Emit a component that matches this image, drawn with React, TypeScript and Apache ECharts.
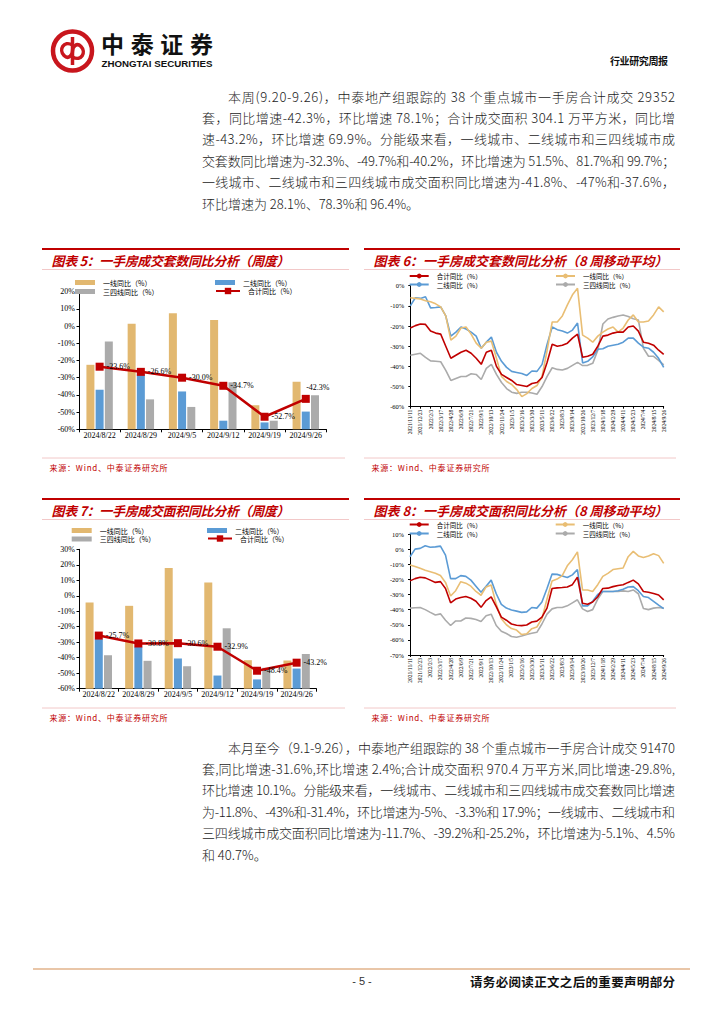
import React, { useEffect, useRef } from "react";
import * as echarts from "echarts";

// ---------- DATA ----------
const weekCats = ["2024/8/22", "2024/8/29", "2024/9/5", "2024/9/12", "2024/9/19", "2024/9/26"];

const unitsTier1 = [-22.5, 1.3, 7.5, 3.5, -46.0, -32.3];
const unitsTier2 = [-37.0, -28.0, -38.0, -55.0, -56.0, -49.7];
const unitsTier34 = [-9.0, -42.6, -47.0, -32.7, -55.0, -40.2];
const unitsTotal = [-23.6, -26.6, -30.0, -34.7, -52.7, -42.3];

const areaTier1 = [-4.3, -6.5, 18.0, 8.6, -41.6, -41.8];
const areaTier2 = [-28.0, -33.0, -40.5, -51.5, -54.0, -47.0];
const areaTier34 = [-38.4, -42.0, -45.5, -21.0, -46.5, -37.6];
const areaTotal = [-25.7, -30.8, -30.6, -32.9, -48.4, -43.2];

const maCats = [
  "2021/11/11", "2021/12/2", "2021/12/23", "2022/1/13", "2022/2/3", "2022/2/24", "2022/3/17",
  "2022/4/7", "2022/4/28", "2022/5/19", "2022/6/9", "2022/6/30", "2022/7/21", "2022/8/11",
  "2022/9/1", "2022/9/22", "2022/10/13", "2022/11/3", "2022/11/24", "2022/12/15", "2023/1/5",
  "2023/1/26", "2023/2/16", "2023/3/9", "2023/3/30", "2023/4/20", "2023/5/11", "2023/6/1",
  "2023/6/22", "2023/7/13", "2023/8/3", "2023/8/24", "2023/9/14", "2023/10/5", "2023/10/26",
  "2023/11/16", "2023/12/7", "2023/12/28", "2024/1/18", "2024/2/8", "2024/2/29", "2024/3/21",
  "2024/4/11", "2024/5/2", "2024/5/23", "2024/6/13", "2024/7/4", "2024/7/25", "2024/8/15",
  "2024/9/5", "2024/9/26",
];

const maUnitsTotal = [
  -21, -19.8, -19, -19.2, -22.5, -23.5, -24, -30, -36, -34.5, -33, -32, -33.5, -36, -39, -33, -32,
  -40, -44, -45.5, -47, -49, -49.5, -50, -48.5, -48, -45.5, -38, -29, -30, -29.5, -28.5, -26, -24,
  -35.5, -35, -34, -30, -25, -24.5, -23.5, -23, -23, -20.5, -20, -22.5, -28, -28.5, -29.5, -32, -34,
];
const maUnitsTier1 = [
  -6, -6.3, -6.6, -7.5, -8, -9, -10.5, -15, -27, -25, -21, -20.5, -24, -28.5, -31, -28, -27.5, -36,
  -45, -47.5, -49, -51.5, -55, -53.5, -51, -49.5, -45, -32, -18, -18, -15, -9.5, -4.5, -1.3, -24.5,
  -26, -28, -25, -23, -21.5, -20.5, -23, -21, -17, -14.5, -18, -18, -17.5, -14.5, -10.5, -13,
];
const maUnitsTier2 = [
  -10, -6, -6.3, -5.5, -11, -10.8, -10.5, -15, -25, -23, -20.5, -21.5, -23, -25, -31, -28, -25.5,
  -33, -37.5, -40.5, -42.5, -43, -43.5, -44.5, -42.3, -42.5, -39, -29, -20.5, -21.8, -22.5, -23.5,
  -22, -18.5, -38.3, -37.5, -35.3, -31.5, -31.3, -30, -29.5, -29, -28, -26, -26, -28.5, -30.5, -31,
  -33, -36, -40.5,
];
const maUnitsTier34 = [
  -34.5, -34, -33.5, -35.5, -37.3, -37.5, -37.7, -42, -47, -46, -45, -45, -43.7, -44, -46.5, -41,
  -39, -44, -48, -51, -52.8, -53.4, -52.8, -52.8, -53.2, -53.8, -50, -45, -40.7, -41.5, -41.8, -41,
  -39.5, -38, -39.6, -39.5, -38.5, -32, -19, -16.5, -15.7, -15, -14.5, -15.3, -16.4, -17, -31, -35,
  -35, -37, -39.3,
];

const maAreaTotal = [
  -21, -19.5, -18.6, -19, -20.5, -22, -21.5, -26, -35.5, -33, -32, -31.3, -32.5, -34.5, -38.5, -34,
  -31.5, -38, -45, -47, -49.5, -50.3, -50.6, -50.2, -48.2, -47.6, -45, -39, -26, -25.6, -25.4, -25,
  -23.5, -18.5, -35.8, -36.5, -35, -31.5, -26, -25.8, -24.8, -24, -23.6, -22, -20.5, -23, -28,
  -28.5, -29.3, -30.3, -33.6,
];
const maAreaTier1 = [
  -10.5, -11.5, -12.7, -14, -15, -16, -17.5, -22, -31, -27.5, -21.5, -22.5, -24.5, -28, -30.5, -25,
  -23.7, -36.5, -46, -50, -52.5, -53.5, -56.5, -56, -52.6, -51.5, -46, -33, -21, -19.8, -17.5, -11,
  -7, -1.8, -27, -27, -28, -23.5, -18, -16, -13.5, -13, -12.5, -5, -1.5, -4.5, -5.5, -4.5, -3, -4.3,
  -9.4,
];
const maAreaTier2 = [
  -5, 0, 0.5, 2.2, 1.2, 1.5, 2, -4, -19.5, -19.5, -17.5, -18, -20.5, -24.5, -28.5, -24.5, -20.5,
  -29.5, -36.5, -39, -40.3, -41, -41.8, -41.5, -38.6, -39, -35, -26, -16.5, -16.7, -17.8, -18.8,
  -17, -13.5, -37.5, -37.5, -34.5, -30, -28, -28, -28, -27.5, -26.5, -25, -24.8, -27.5, -31.3, -32,
  -34.5, -37, -39.3,
];
const maAreaTier34 = [
  -39, -38.8, -38.6, -40, -41.8, -43.5, -42.8, -47, -50.5, -47.5, -47.5, -45.5, -45.8, -46.5, -47.8,
  -44, -43, -50.5, -54.3, -55.8, -57.8, -58.3, -57.5, -56.5, -55.6, -55, -49.5, -43, -39.5, -38.6,
  -38.6, -37.5, -35.5, -33.5, -39.5, -41.2, -40, -33, -28, -28, -28, -28, -27.6, -28, -27, -29.5,
  -39.3, -40, -39, -38.6, -39,
];

const para1 = [
  "本周(9.20-9.26)，中泰地产组跟踪的 38 个重点城市一手房合计成交 29352",
  "套，同比增速-42.3%，环比增速 78.1%；合计成交面积 304.1 万平方米，同比增",
  "速-43.2%，环比增速 69.9%。分能级来看，一线城市、二线城市和三四线城市成",
  "交套数同比增速为-32.3%、-49.7%和-40.2%，环比增速为 51.5%、81.7%和 99.7%；",
  "一线城市、二线城市和三四线城市成交面积同比增速为-41.8%、-47%和-37.6%，",
  "环比增速为 28.1%、78.3%和 96.4%。",
];
const para2 = [
  "本月至今（9.1-9.26），中泰地产组跟踪的 38 个重点城市一手房合计成交 91470",
  "套,同比增速-31.6%,环比增速 2.4%;合计成交面积 970.4 万平方米,同比增速-29.8%,",
  "环比增速 10.1%。分能级来看，一线城市、二线城市和三四线城市成交套数同比增速",
  "为-11.8%、-43%和-31.4%，环比增速为-5%、-3.3%和 17.9%；一线城市、二线城市和",
  "三四线城市成交面积同比增速为-11.7%、-39.2%和-25.2%，环比增速为-5.1%、4.5%",
  "和 40.7%。",
];

const N1 = "一线同比（%）";
const N2 = "二线同比（%）";
const N34 = "三四线同比（%）";
const NT = "合计同比（%）";

// ---------- STYLE ----------
const RED = "#C00000";
const ORANGE = "#E2B870";
const LORANGE = "#E9BE74";
const BLUE = "#5B9BD5";
const GREY = "#ABABAB";
const CJK = "Noto Sans CJK SC";
const SERIF = "Liberation Serif";

function barOption(c: any) {
  const legendBase = {
    padding: 0,
    itemGap: 0,
    textStyle: { fontSize: 7, lineHeight: 8, fontFamily: CJK, color: "#000", padding: [0, 0, 0, 3] },
  };
  return {
    animation: false,
    legend: [
      { ...legendBase, data: [N1], left: c.l1, top: c.r1, icon: "rect", itemWidth: 20, itemHeight: 5 },
      { ...legendBase, data: [N2], left: c.l2, top: c.r1, icon: "rect", itemWidth: 20, itemHeight: 5 },
      { ...legendBase, data: [N34], left: c.l1, top: c.r2, icon: "rect", itemWidth: 20, itemHeight: 5 },
      { ...legendBase, data: [NT], left: c.l2, top: c.r2 - 0.5, itemWidth: 24, itemHeight: 8 },
    ],
    grid: c.grid,
    xAxis: {
      type: "category",
      data: weekCats,
      axisLine: { onZero: false, lineStyle: { color: "#000", width: 1 } },
      axisTick: { show: true, length: 3, lineStyle: { color: "#000" } },
      axisLabel: { color: "#000", fontSize: 8, fontFamily: SERIF, margin: 2, interval: 0 },
    },
    yAxis: {
      type: "value",
      min: c.min,
      max: c.max,
      interval: 10,
      startValue: c.min,
      axisLine: { show: true, lineStyle: { color: "#000" } },
      axisTick: { show: true, length: 2.5, lineStyle: { color: "#000" } },
      splitLine: { show: false },
      axisLabel: { formatter: "{value}%", fontSize: 8, fontFamily: SERIF, color: "#000", margin: 4 },
    },
    series: [
      { name: N1, type: "bar", data: c.t1, barWidth: 8, barGap: "15%", itemStyle: { color: ORANGE } },
      { name: N2, type: "bar", data: c.t2, barWidth: 8, barGap: "15%", itemStyle: { color: BLUE } },
      { name: N34, type: "bar", data: c.t34, barWidth: 8, barGap: "15%", itemStyle: { color: GREY } },
      {
        name: NT,
        type: "line",
        data: c.tot.map((v: number, i: number) =>
          c.tweak && c.tweak[i] ? { value: v, label: c.tweak[i] } : v
        ),
        symbol: "rect",
        symbolSize: 8,
        z: 5,
        lineStyle: { width: 2.5, color: RED },
        itemStyle: { color: RED },
        label: {
          show: true,
          position: "right",
          distance: 3,
          fontSize: 8,
          fontFamily: SERIF,
          color: "#000",
          formatter: (p: any) => Number(p.value).toFixed(1) + "%",
        },
      },
    ],
  };
}

function lineOption(c: any) {
  const legendBase = {
    padding: 0,
    itemGap: 0,
    itemWidth: 19,
    itemHeight: 6,
    textStyle: { fontSize: 6.5, lineHeight: 7, fontFamily: CJK, color: "#000", padding: [0, 0, 0, 3] },
  };
  const s = (name: string, data: number[], color: string, z: number) => ({
    name,
    type: "line",
    data,
    symbol: "none",
    z,
    lineStyle: { width: 1.6, color },
    itemStyle: { color },
  });
  return {
    animation: false,
    legend: [
      { ...legendBase, data: [NT], left: c.l1, top: c.r1 },
      { ...legendBase, data: [N1], left: c.l2, top: c.r1 },
      { ...legendBase, data: [N2], left: c.l1, top: c.r2 },
      { ...legendBase, data: [N34], left: c.l2, top: c.r2 },
    ],
    grid: c.grid,
    xAxis: {
      type: "category",
      data: maCats,
      boundaryGap: false,
      axisLine: { onZero: false, lineStyle: { color: "#000" } },
      axisTick: { show: true, interval: 1, length: 2, lineStyle: { color: "#000" } },
      axisLabel: { rotate: 90, interval: 1, fontSize: 5.5, fontFamily: SERIF, color: "#000", margin: 3 },
    },
    yAxis: {
      type: "value",
      min: c.min,
      max: c.max,
      interval: 10,
      axisLine: { show: true, lineStyle: { color: "#000" } },
      axisTick: { show: true, length: 2, lineStyle: { color: "#000" } },
      splitLine: { show: false },
      axisLabel: { formatter: "{value}%", fontSize: 6.5, fontFamily: SERIF, color: "#000", margin: 6 },
    },
    series: [
      s(N34, c.t34, GREY, 2),
      s(N2, c.t2, BLUE, 3),
      s(N1, c.t1, LORANGE, 4),
      s(NT, c.tot, RED, 5),
    ],
  };
}

function EChart({ option, box }: { option: any; box: any }) {
  const ref = useRef<HTMLDivElement>(null);
  useEffect(() => {
    const chart = echarts.init(ref.current as HTMLDivElement, null, { renderer: "svg" });
    chart.setOption(option);
    return () => chart.dispose();
  }, []);
  return <div ref={ref} style={{ position: "absolute", ...box }} />;
}

function Para({ lines, top }: { lines: string[]; top: number }) {
  return (
    <>
      {lines.map((t, i) => {
        const x = i === 0 ? 228 : 202;
        const last = i === lines.length - 1;
        return (
          <text
            key={i}
            x={x}
            y={top + i * 21.4}
            fontSize={13}
            fontWeight={300}
            fontFamily={CJK}
            fill="#1a1a1a"
            dominantBaseline="central"
            {...(last ? {} : { textLength: 675 - x, lengthAdjust: "spacing" })}
          >
            {t}
          </text>
        );
      })}
    </>
  );
}

function Frame({ x1, x2, y, title, tx, tl }: any) {
  return (
    <>
      <line x1={x1} x2={x2} y1={y} y2={y} stroke={RED} strokeWidth={2} />
      <text
        x={tx}
        y={y + 11}
        fontSize={13}
        fontFamily={CJK}
        fontWeight={700}
        fontStyle="italic"
        fill={RED}
        dominantBaseline="central"
        textLength={tl}
        lengthAdjust="spacing"
      >
        {title}
      </text>
      <line x1={x1} x2={x2} y1={y + 20.5} y2={y + 20.5} stroke="#F2C8C8" strokeWidth={1} />
      <line x1={x1} x2={x2 - 4} y1={y + 209} y2={y + 209} stroke="#F2C8C8" strokeWidth={1} />
      <text
        x={tx - 2}
        y={y + 218.5}
        fontSize={8}
        fontFamily={CJK}
        fill={RED}
        dominantBaseline="central"
        textLength={118}
        lengthAdjust="spacing"
      >
        来源：Wind、中泰证券研究所
      </text>
    </>
  );
}

export default function App() {
  const opt5 = barOption({
    t1: unitsTier1, t2: unitsTier2, t34: unitsTier34, tot: unitsTotal,
    min: -60, max: 20,
    grid: { left: 37, top: 21.7, width: 247.4, height: 137.6 },
    l1: 33, l2: 173, r1: 8.5, r2: 17.5,
    tweak: { 5: { position: "top", offset: [12, 0] } },
  });
  const opt7 = barOption({
    t1: areaTier1, t2: areaTier2, t34: areaTier34, tot: areaTotal,
    min: -60, max: 30,
    grid: { left: 37, top: 29.3, width: 237.4, height: 139.4 },
    l1: 29.7, l2: 165, r1: 6.5, r2: 15,
  });
  const opt6 = lineOption({
    t1: maUnitsTier1, t2: maUnitsTier2, t34: maUnitsTier34, tot: maUnitsTotal,
    min: -60, max: 0,
    grid: { left: 46.3, top: 15.7, width: 253.4, height: 121 },
    l1: 44.7, l2: 191, r1: 2.5, r2: 11,
  });
  const opt8 = lineOption({
    t1: maAreaTier1, t2: maAreaTier2, t34: maAreaTier34, tot: maAreaTotal,
    min: -70, max: 10,
    grid: { left: 46, top: 14, width: 253.7, height: 121 },
    l1: 44.7, l2: 190.7, r1: 1, r2: 10,
  });

  return (
    <div style={{ position: "absolute", left: 0, top: 0, width: 724, height: 1024, background: "#fff", overflow: "hidden" }}>
      <svg width={724} height={1024} style={{ position: "absolute", left: 0, top: 0 }}>
        {/* logo */}
        <g transform="translate(49.5,28)">
          <circle cx={23} cy={23} r={19.5} fill="none" stroke="#C8161D" strokeWidth={4.5} />
          <path d="M23 9 V37" stroke="#C8161D" strokeWidth={3.5} fill="none" />
          <path d="M23 17 C14 12 9 22 14.5 27.5 C19 32 23 27 23 23" fill="none" stroke="#C8161D" strokeWidth={3.5} />
          <path d="M23 29 C32 34 37 24 31.5 18.5 C27 14 23 19 23 23" fill="none" stroke="#C8161D" strokeWidth={3.5} />
        </g>
        <text x={101} y={42.5} fontSize={23} fontWeight={700} fontFamily={CJK} fill="#111" dominantBaseline="central" textLength={112} lengthAdjust="spacing">
          中泰证券
        </text>
        <text x={101.5} y={63.5} fontSize={9} fontWeight={700} fontFamily="Liberation Sans" fill="#111" dominantBaseline="central" textLength={111} lengthAdjust="spacingAndGlyphs">
          ZHONGTAI SECURITIES
        </text>
        <text x={610} y={60} fontSize={10} fontWeight={700} fontFamily={CJK} fill="#111" dominantBaseline="central" textLength={58} lengthAdjust="spacing">
          行业研究周报
        </text>

        <Para lines={para1} top={96} />

        <Frame x1={42} x2={349} y={249} title="图表 5：一手房成交套数同比分析（周度）" tx={51.5} tl={238} />
        <Frame x1={364} x2={680} y={249} title="图表 6：一手房成交套数同比分析（8 周移动平均）" tx={373.5} tl={294} />
        <Frame x1={42} x2={349} y={499} title="图表 7：一手房成交面积同比分析（周度）" tx={51.5} tl={238} />
        <Frame x1={364} x2={680} y={499} title="图表 8：一手房成交面积同比分析（8 周移动平均）" tx={373.5} tl={294} />

        <Para lines={para2} top={747} />

        <line x1={33} x2={690} y1={969} y2={969} stroke="#E9C6A8" strokeWidth={2} />
        <text x={362} y={981} fontSize={11} fontFamily="Liberation Sans" fill="#333" textAnchor="middle" dominantBaseline="central">
          - 5 -
        </text>
        <text x={470} y={981} fontSize={12.5} fontWeight={700} fontFamily={CJK} fill="#111" dominantBaseline="central" textLength={205} lengthAdjust="spacing">
          请务必阅读正文之后的重要声明部分
        </text>
      </svg>

      <EChart option={opt5} box={{ left: 42, top: 270, width: 307, height: 186 }} />
      <EChart option={opt6} box={{ left: 364, top: 270, width: 317, height: 186 }} />
      <EChart option={opt7} box={{ left: 42, top: 520, width: 307, height: 186 }} />
      <EChart option={opt8} box={{ left: 364, top: 520, width: 317, height: 186 }} />
    </div>
  );
}
